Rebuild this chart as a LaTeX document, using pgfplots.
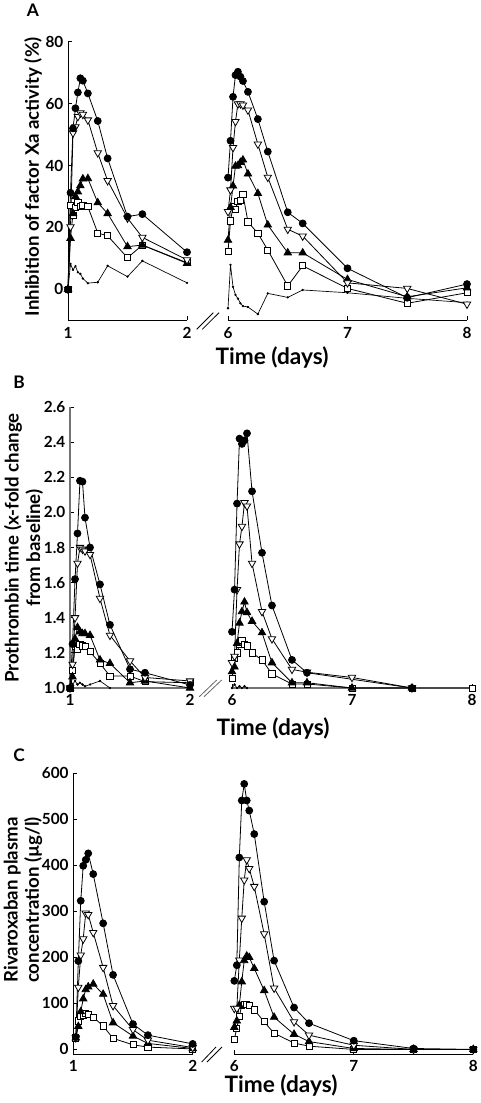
\documentclass[border=0pt]{standalone}
\usepackage{fontspec}
\setmainfont{Lato}
\usepackage{pgfplots}
\pgfplotsset{compat=1.18}

\pgfplotsset{
  base/.style={
    scale only axis, clip=false, anchor=south west,
    axis x line*=bottom,
    axis line style={-, line width=0.7pt},
    tick style={line width=0.7pt, black},
    major tick length=3pt,
    tick align=inside,
    ticklabel style={font=\bfseries\fontsize{11.5}{13}\selectfont},
    xticklabel style={yshift=-1.5pt},
    /pgf/number format/assume math mode=true,
  },
  leftax/.style={base, axis y line*=left, xtick={1,2}, xmin=1, xmax=2},
  rightax/.style={base, hide y axis, xtick={6,7,8}, xmin=6, xmax=8},
  sC/.style={black, line width=0.6pt, mark=*, mark size=2.6pt, mark options={solid, fill=black}},
  sV/.style={black, line width=0.6pt, mark=triangle*, mark size=3.2pt, mark options={solid, fill=white, rotate=180}},
  sT/.style={black, line width=0.6pt, mark=triangle*, mark size=3.2pt, mark options={solid, fill=black}},
  sS/.style={black, line width=0.6pt, mark=square*, mark size=2.3pt, mark options={solid, fill=white}},
  sP/.style={black, line width=0.5pt, mark=*, mark size=0.6pt},
}
\newcommand{\lab}{\bfseries\fontsize{14}{16}\selectfont}
\newcommand{\tlab}{\bfseries\fontsize{17}{19}\selectfont}

\begin{document}
\begin{tikzpicture}
\useasboundingbox (0,0) rectangle (480*0.75pt,-1103*0.75pt);

% ---------------- Panel A ----------------
\begin{axis}[leftax, at={(68*0.75pt,-320.3*0.75pt)}, width=119*0.75pt, height=278.6*0.75pt,
  ymin=-10, ymax=80, ytick={0,20,40,60,80}]
\addplot[sP] coordinates {(1.0,0) (1.021,8.2) (1.042,6.3) (1.0625,7.5) (1.083,5.5) (1.104,5.0) (1.125,3.5) (1.167,2.0) (1.25,2.3) (1.333,7.6) (1.5,4.1) (1.625,9.2) (2.0,2.1)};
\addplot[sS] coordinates {(1.0,0) (1.021,27.1) (1.042,24.0) (1.0625,26.5) (1.083,28.2) (1.104,26.8) (1.125,27.0) (1.167,26.7) (1.25,18.2) (1.333,17.3) (1.5,10.2) (1.625,14.3) (2.0,8.6)};
\addplot[sT] coordinates {(1.0,0) (1.021,16.5) (1.042,24.5) (1.0625,30.0) (1.083,31.5) (1.104,33.5) (1.125,35.7) (1.167,35.8) (1.25,28.0) (1.333,24.5) (1.5,13.8) (1.625,14.3) (2.0,8.4)};
\addplot[sV] coordinates {(1.0,0) (1.021,20.2) (1.042,50.5) (1.0625,52.5) (1.083,55.8) (1.104,57.0) (1.125,56.5) (1.167,54.7) (1.25,44.1) (1.333,35.1) (1.5,23.0) (1.625,16.8) (2.0,9.5)};
\addplot[sC] coordinates {(1.0,0) (1.021,31.2) (1.042,52.0) (1.0625,58.5) (1.083,63.6) (1.104,68.2) (1.125,67.4) (1.167,63.3) (1.25,54.4) (1.333,42.3) (1.5,23.5) (1.625,24.3) (2.0,12.0)};
\end{axis}
\begin{axis}[rightax, at={(228*0.75pt,-320.3*0.75pt)}, width=239*0.75pt, height=278.6*0.75pt,
  ymin=-10, ymax=80]
\addplot[sP] coordinates {(6.0,-6.1) (6.021,7.9) (6.042,0.8) (6.0625,-1.8) (6.083,-3.0) (6.104,-4.5) (6.125,-5.4) (6.167,-5.7) (6.25,-8.0) (6.333,-1.3) (6.5,-2.6) (6.625,-0.2) (7.0,-1.1) (7.5,-2.9) (8.0,-4.3)};
\addplot[sS] coordinates {(6.0,12.2) (6.021,22.1) (6.042,26.7) (6.0625,25.8) (6.083,28.3) (6.104,28.6) (6.125,30.7) (6.167,21.8) (6.25,18.1) (6.333,12.7) (6.5,1.1) (6.625,7.6) (7.0,0.3) (7.5,-4.5) (8.0,-1.1)};
\addplot[sT] coordinates {(6.0,15.9) (6.021,26.5) (6.042,33.4) (6.0625,39.8) (6.083,40.0) (6.104,41.0) (6.125,41.8) (6.167,37.3) (6.25,31.0) (6.333,20.8) (6.5,11.8) (6.625,11.8) (7.0,3.2) (7.5,-2.4) (8.0,0.5)};
\addplot[sV] coordinates {(6.0,25.1) (6.021,32.1) (6.042,45.8) (6.0625,54.2) (6.083,59.9) (6.104,59.9) (6.125,59.5) (6.167,57.9) (6.25,46.9) (6.333,36.2) (6.5,19.4) (6.625,17.2) (7.0,2.1) (7.5,0.3) (8.0,-4.8)};
\addplot[sC] coordinates {(6.0,36.1) (6.021,48.0) (6.042,62.2) (6.0625,69.2) (6.083,70.3) (6.104,68.7) (6.125,67.3) (6.167,63.8) (6.25,55.0) (6.333,44.5) (6.5,24.9) (6.625,21.3) (7.0,6.8) (7.5,-2.7) (8.0,1.7)};
\end{axis}

% ---------------- Panel B ----------------
\begin{axis}[leftax, at={(70*0.75pt,-688*0.75pt)}, width=120*0.75pt, height=281*0.75pt,
  ymin=1.0, ymax=2.6, ytick={1.0,1.2,1.4,1.6,1.8,2.0,2.2,2.4,2.6},
  axis line style={-, line width=0.8pt, black!55},
  yticklabel style={/pgf/number format/.cd, fixed, fixed zerofill, precision=1}]
\addplot[sP] coordinates {(1.0,1.0) (1.01,1.03) (1.021,1.02) (1.042,1.04) (1.0625,1.02) (1.083,1.03) (1.104,1.02) (1.125,1.01) (1.167,1.02) (1.25,1.04) (1.333,1.0)};
\addplot[sS] coordinates {(1.0,1.0) (1.021,1.10) (1.042,1.235) (1.0625,1.22) (1.083,1.25) (1.104,1.24) (1.125,1.235) (1.167,1.207) (1.25,1.14) (1.333,1.068) (1.5,1.068) (1.625,1.036) (2.0,1.03)};
\addplot[sT] coordinates {(1.0,1.0) (1.021,1.064) (1.042,1.28) (1.0625,1.345) (1.083,1.32) (1.104,1.31) (1.125,1.31) (1.167,1.30) (1.25,1.16) (1.333,1.14) (1.5,1.03) (1.625,1.04) (2.0,1.0)};
\addplot[sV] coordinates {(1.0,1.0) (1.021,1.135) (1.042,1.40) (1.0625,1.71) (1.083,1.80) (1.104,1.79) (1.125,1.78) (1.167,1.76) (1.25,1.51) (1.333,1.30) (1.5,1.154) (1.625,1.06) (2.0,1.04)};
\addplot[sC] coordinates {(1.0,1.0) (1.021,1.25) (1.042,1.62) (1.0625,1.88) (1.083,2.18) (1.104,2.175) (1.125,1.97) (1.167,1.80) (1.25,1.59) (1.333,1.36) (1.5,1.107) (1.625,1.087) (2.0,1.017)};
\end{axis}
\begin{axis}[rightax, at={(232*0.75pt,-688*0.75pt)}, width=240*0.75pt, height=281*0.75pt,
  ymin=1.0, ymax=2.6, axis line style={-, line width=0.8pt, black!55}]
\addplot[sP] coordinates {(6.0,1.0) (6.021,1.02) (6.042,1.0) (6.0625,1.01) (6.083,1.0) (6.104,1.01) (6.125,1.0)};
\addplot[sS] coordinates {(6.0,1.055) (6.021,1.17) (6.042,1.2) (6.0625,1.25) (6.083,1.27) (6.104,1.25) (6.125,1.24) (6.167,1.2) (6.25,1.16) (6.333,1.08) (6.5,1.023) (6.625,1.023) (7.0,1.0) (7.5,1.0) (8.0,1.0)};
\addplot[sT] coordinates {(6.0,1.093) (6.021,1.12) (6.042,1.254) (6.0625,1.37) (6.083,1.435) (6.104,1.49) (6.125,1.43) (6.167,1.38) (6.25,1.315) (6.333,1.144) (6.5,1.03) (6.625,1.03) (7.0,1.0) (7.5,1.0)};
\addplot[sV] coordinates {(6.0,1.144) (6.021,1.18) (6.042,1.56) (6.0625,1.82) (6.083,1.92) (6.104,2.055) (6.125,2.036) (6.167,1.71) (6.25,1.435) (6.333,1.28) (6.5,1.106) (6.625,1.09) (7.0,1.06) (7.5,1.0)};
\addplot[sC] coordinates {(6.0,1.32) (6.021,1.56) (6.042,2.05) (6.0625,2.42) (6.083,2.39) (6.104,2.41) (6.125,2.45) (6.167,2.12) (6.25,1.77) (6.333,1.47) (6.5,1.16) (6.625,1.087) (7.5,1.0)};
\end{axis}

% ---------------- Panel C ----------------
\begin{axis}[leftax, at={(73.3*0.75pt,-1054*0.75pt)}, width=119.4*0.75pt, height=280.7*0.75pt,
  ymin=-10, ymax=600, ytick={0,100,200,300,400,500,600}]
\addplot[sS] coordinates {(1.021,25) (1.042,62) (1.0625,72) (1.083,75) (1.104,78) (1.125,77) (1.167,70) (1.25,51) (1.333,24) (1.5,10) (1.625,5) (2.0,1)};
\addplot[sT] coordinates {(1.021,25) (1.042,50) (1.0625,82) (1.083,110) (1.104,130) (1.125,136) (1.167,142) (1.25,120) (1.333,58) (1.5,29) (1.625,13) (2.0,2)};
\addplot[sV] coordinates {(1.021,25) (1.042,135) (1.0625,205) (1.083,240) (1.104,296) (1.125,293) (1.167,254) (1.25,178) (1.333,95) (1.5,43) (1.625,20) (2.0,4)};
\addplot[sC] coordinates {(1.021,27) (1.042,192) (1.0625,323) (1.083,399) (1.104,412) (1.125,426) (1.167,381) (1.25,274) (1.333,162) (1.5,55) (1.625,31) (2.0,12)};
\end{axis}
\begin{axis}[rightax, at={(234.3*0.75pt,-1054*0.75pt)}, width=239*0.75pt, height=280.7*0.75pt,
  ymin=-10, ymax=600]
\addplot[sS] coordinates {(6.0,22) (6.021,46) (6.042,72) (6.0625,96) (6.083,98) (6.104,97) (6.125,96) (6.167,86) (6.25,60) (6.333,35) (6.5,14) (6.625,7) (7.0,0) (7.5,0) (8.0,0)};
\addplot[sT] coordinates {(6.0,48) (6.021,62) (6.042,96) (6.0625,147) (6.083,193) (6.104,203) (6.125,200) (6.167,176) (6.25,128) (6.333,70) (6.5,33) (6.625,17) (7.0,2) (7.5,0) (8.0,0)};
\addplot[sV] coordinates {(6.0,89) (6.021,89) (6.042,194) (6.0625,285) (6.083,368) (6.104,412) (6.125,393) (6.167,354) (6.25,251) (6.333,133) (6.5,60) (6.625,31) (7.0,9) (7.5,0) (8.0,0)};
\addplot[sC] coordinates {(6.0,149) (6.021,183) (6.042,417) (6.0625,541) (6.083,577) (6.104,541) (6.125,519) (6.167,468) (6.25,321) (6.333,193) (6.5,91) (6.625,57) (7.0,19) (7.5,2) (8.0,0)};
\end{axis}

% ---------------- break marks ----------------
\begin{scope}[line width=0.6pt]
\draw (196.7*0.75pt,-329.3*0.75pt) -- (213.3*0.75pt,-312.7*0.75pt);
\draw (202.3*0.75pt,-329.3*0.75pt) -- (219*0.75pt,-312.7*0.75pt);
\draw[black!60] (199.3*0.75pt,-696.7*0.75pt) -- (216.7*0.75pt,-680*0.75pt);
\draw[black!60] (204*0.75pt,-696.7*0.75pt) -- (221.7*0.75pt,-680*0.75pt);
\draw (201.7*0.75pt,-1062*0.75pt) -- (216*0.75pt,-1047*0.75pt);
\draw (207*0.75pt,-1062*0.75pt) -- (222*0.75pt,-1047*0.75pt);
\end{scope}

% ---------------- texts ----------------
\node[font=\bfseries\fontsize{13}{15}\selectfont] at (33*0.75pt,-10*0.75pt) {A};
\node[font=\bfseries\fontsize{13}{15}\selectfont] at (19*0.75pt,-382*0.75pt) {B};
\node[font=\bfseries\fontsize{13}{15}\selectfont] at (19*0.75pt,-755*0.75pt) {C};

\node[font=\lab, rotate=90] at (33*0.75pt,-177*0.75pt) {Inhibition of factor Xa activity (\%)};
\node[font=\lab, rotate=90, align=center] at (23.5*0.75pt,-548*0.75pt) {Prothrombin time (x-fold change\\from baseline)};
\node[font=\lab, rotate=90, align=center] at (23*0.75pt,-900*0.75pt) {Rivaroxaban plasma\\concentration (µg/l)};

\node[font=\tlab] at (272*0.75pt,-357.5*0.75pt) {Time (days)};
\node[font=\tlab] at (273*0.75pt,-728*0.75pt) {Time (days)};
\node[font=\tlab] at (281*0.75pt,-1085*0.75pt) {Time (days)};
\end{tikzpicture}
\end{document}
